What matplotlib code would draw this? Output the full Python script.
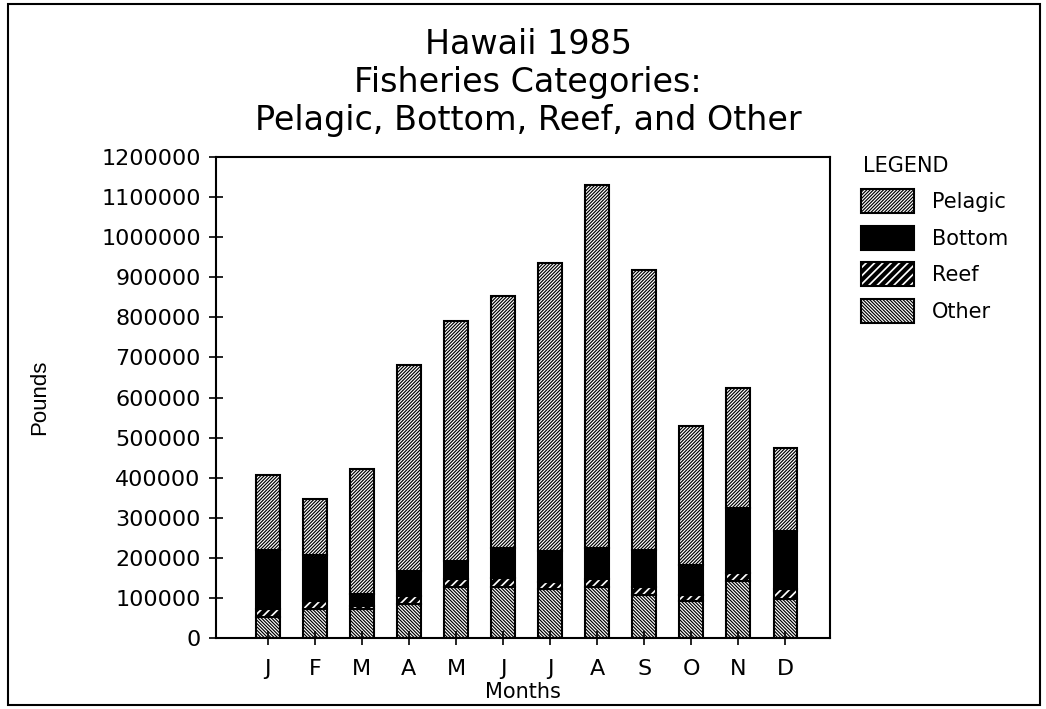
import numpy as np
import matplotlib
matplotlib.use("Agg")
import matplotlib.pyplot as plt
from matplotlib.patches import Rectangle

plt.rcParams['font.family'] = ['DejaVu Sans']
plt.rcParams['hatch.linewidth'] = 0.85

# Hawaii 1985 landings, pounds
months = ['J', 'F', 'M', 'A', 'M', 'J', 'J', 'A', 'S', 'O', 'N', 'D']
other = [52000, 72000, 72000, 85000, 128000, 127000, 122000, 127000, 107000, 93000, 142000, 97000]
reef = [20000, 20000, 9000, 20000, 19000, 22000, 19000, 20000, 20000, 14000, 20000, 25000]
bottom = [148000, 115000, 29000, 61000, 44000, 75000, 75000, 77000, 93000, 74000, 162000, 146000]
pelagic = [187000, 140000, 312000, 515000, 600000, 628000, 720000, 907000, 698000, 347000, 299000, 206000]
yticks = np.arange(0, 1200001, 100000)


def thick_hatch(artist, lw=3.0):
    # give one artist a heavier hatch than the rest
    if hasattr(artist, 'set_hatch_linewidth'):
        artist.set_hatch_linewidth(lw)
    orig = artist.draw

    def draw(renderer):
        with plt.rc_context({'hatch.linewidth': lw}):
            orig(renderer)
    artist.draw = draw


fig = plt.figure(figsize=(10.46, 7.09), dpi=100)
ax = fig.add_axes([0.2065, 0.1001, 0.587, 0.6785])

x = np.arange(len(months))
w = 0.5
b1 = np.array(other)
b2 = b1 + np.array(reef)
b3 = b2 + np.array(bottom)

p_other = ax.bar(x, other, w, color='white', edgecolor='black', hatch='\\' * 10, lw=1.5, label='Other')
p_reef = ax.bar(x, reef, w, bottom=b1, color='white', edgecolor='black', hatch='////', lw=1.5, label='Reef')
for p in p_reef:
    thick_hatch(p, 3.0)
p_bottom = ax.bar(x, bottom, w, bottom=b2, color='black', edgecolor='black', lw=1.5, label='Bottom')
p_pel = ax.bar(x, pelagic, w, bottom=b3, color='white', edgecolor='black', hatch='/' * 10, lw=1.5, label='Pelagic')

ax.set_xlim(-1.1, 11.95)
ax.set_ylim(0, 1200000)
ax.set_yticks(yticks)
ax.set_yticklabels([str(v) for v in yticks])
ax.set_xticks(x)
ax.set_xticklabels(months)
ax.tick_params(direction='inout', length=10, width=1.2, labelsize=16, pad=6)
ax.tick_params(axis='x', pad=10)
for s in ax.spines.values():
    s.set_linewidth(1.5)

ax.set_xlabel('Months', fontsize=15, labelpad=2)
fig.text(0.038, 0.44, 'Pounds', rotation=90, va='center', ha='center', fontsize=16,
         family=['Liberation Sans', 'DejaVu Sans'])

fig.text(0.505, 0.937, 'Hawaii 1985', ha='center', va='center', fontsize=24)
fig.text(0.505, 0.883, 'Fisheries Categories:', ha='center', va='center', fontsize=24)
fig.text(0.505, 0.830, 'Pelagic, Bottom, Reef, and Other', ha='center', va='center', fontsize=24)

fig.text(0.825, 0.766, 'LEGEND', ha='left', va='center', fontsize=15)
leg = fig.legend([p_pel, p_bottom, p_reef, p_other], ['Pelagic', 'Bottom', 'Reef', 'Other'],
                 loc='upper left', bbox_to_anchor=(0.823, 0.733), frameon=False,
                 fontsize=15, borderpad=0, borderaxespad=0,
                 handlelength=2.55, handleheight=1.4, labelspacing=0.6, handletextpad=0.85)
thick_hatch(leg.legend_handles[2], 3.0)

fig.patches.append(Rectangle((0.008, 0.006), 0.986, 0.988, transform=fig.transFigure,
                             fill=False, edgecolor='black', lw=1.5))

fig.savefig('out.png', dpi=100)
